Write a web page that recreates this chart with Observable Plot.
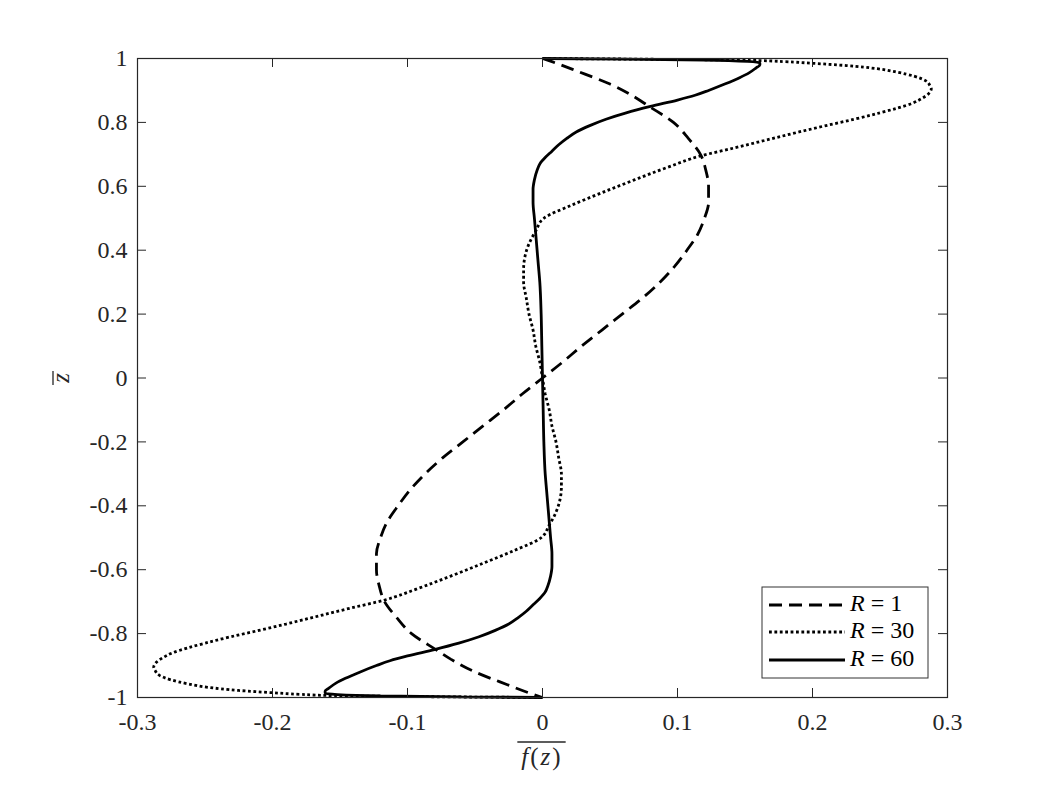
<!DOCTYPE html>
<html><head><meta charset="utf-8">
<script src="https://cdn.jsdelivr.net/npm/d3@7"></script>
<script src="https://cdn.jsdelivr.net/npm/@observablehq/plot@0.6"></script>
<style>html,body{margin:0;padding:0;background:#fff;} #chart{width:1046px;height:785px;} #chart svg text{font-family:"Liberation Serif","DejaVu Serif",serif;}</style>
</head><body><div id="chart"></div>
<script>
// ---- data (z = vertical coordinate, f = horizontal value) ----
const zR1 = [1, 0.99, 0.96, 0.92, 0.88, 0.85, 0.8, 0.75, 0.7, 0.65, 0.6, 0.55, 0.5, 0.45, 0.4, 0.35, 0.3, 0.25, 0.2, 0.15, 0.1, 0.05, 0,
  -0.05, -0.1, -0.15, -0.2, -0.25, -0.3, -0.35, -0.4, -0.45, -0.5, -0.55, -0.6, -0.65, -0.7, -0.75, -0.8, -0.85, -0.88, -0.92, -0.96, -0.99, -1];
const fR1 = [0, 0.007, 0.026, 0.05, 0.068, 0.079, 0.097, 0.108, 0.117, 0.121, 0.123, 0.123, 0.12, 0.115, 0.107, 0.098, 0.087, 0.074, 0.059, 0.044, 0.029, 0.015, 0,
  -0.015, -0.029, -0.044, -0.059, -0.074, -0.087, -0.098, -0.107, -0.115, -0.12, -0.123, -0.123, -0.121, -0.117, -0.108, -0.097, -0.079, -0.068, -0.05, -0.026, -0.007, 0];

const zR30 = [1, 0.997, 0.994, 0.99, 0.985, 0.978, 0.968, 0.957, 0.945, 0.93, 0.915, 0.905, 0.89, 0.875, 0.86, 0.845, 0.83, 0.81, 0.79, 0.77, 0.745, 0.72, 0.695, 0.66, 0.62, 0.58, 0.54, 0.5, 0.46, 0.42, 0.38, 0.34, 0.3, 0.25, 0.2, 0.15, 0.1, 0.05, 0,
  -0.05, -0.1, -0.15, -0.2, -0.25, -0.3, -0.34, -0.38, -0.42, -0.46, -0.5, -0.54, -0.58, -0.62, -0.66, -0.695, -0.72, -0.745, -0.77, -0.79, -0.81, -0.83, -0.845, -0.86, -0.875, -0.89, -0.905, -0.915, -0.93, -0.945, -0.957, -0.968, -0.978, -0.985, -0.99, -0.994, -0.997, -1];
const fR30 = [0, 0.1, 0.155, 0.18, 0.2, 0.225, 0.248, 0.263, 0.275, 0.284, 0.287, 0.288, 0.286, 0.281, 0.274, 0.263, 0.25, 0.231, 0.21, 0.19, 0.166, 0.142, 0.117, 0.093, 0.068, 0.044, 0.021, 0.001, -0.005, -0.01, -0.013, -0.014, -0.014, -0.012, -0.01, -0.007, -0.005, -0.002, 0,
  0.002, 0.005, 0.007, 0.01, 0.012, 0.014, 0.014, 0.013, 0.01, 0.005, -0.001, -0.021, -0.044, -0.068, -0.093, -0.117, -0.142, -0.166, -0.19, -0.21, -0.231, -0.25, -0.263, -0.274, -0.281, -0.286, -0.288, -0.287, -0.284, -0.275, -0.263, -0.248, -0.225, -0.2, -0.18, -0.155, -0.1, 0];

const zR60 = [1, 0.998, 0.995, 0.991, 0.987, 0.98, 0.97, 0.955, 0.94, 0.92, 0.9, 0.885, 0.87, 0.85, 0.83, 0.81, 0.79, 0.77, 0.75, 0.73, 0.71, 0.69, 0.67, 0.65, 0.62, 0.59, 0.55, 0.5, 0.45, 0.4, 0.35, 0.3, 0.2, 0.1, 0,
  -0.1, -0.2, -0.3, -0.35, -0.4, -0.45, -0.5, -0.55, -0.59, -0.62, -0.65, -0.67, -0.69, -0.71, -0.73, -0.75, -0.77, -0.79, -0.81, -0.83, -0.85, -0.87, -0.885, -0.9, -0.92, -0.94, -0.955, -0.97, -0.98, -0.987, -0.991, -0.995, -0.998, -1];
const fR60 = [0, 0.06, 0.12, 0.152, 0.161, 0.161, 0.158, 0.153, 0.146, 0.135, 0.123, 0.113, 0.1, 0.08, 0.062, 0.047, 0.035, 0.025, 0.018, 0.012, 0.007, 0.002, -0.002, -0.004, -0.006, -0.007, -0.007, -0.006, -0.005, -0.004, -0.003, -0.002, -0.001, -0.0005, 0,
  0.0005, 0.001, 0.002, 0.003, 0.004, 0.005, 0.006, 0.007, 0.007, 0.006, 0.004, 0.002, -0.002, -0.007, -0.012, -0.018, -0.025, -0.035, -0.047, -0.062, -0.08, -0.1, -0.113, -0.123, -0.135, -0.146, -0.153, -0.158, -0.161, -0.161, -0.152, -0.12, -0.06, 0];

const seriesNames = ["R = 1", "R = 30", "R = 60"];
const xTicks = [-0.3, -0.2, -0.1, 0, 0.1, 0.2, 0.3];
const xTickLabels = ["-0.3", "-0.2", "-0.1", "0", "0.1", "0.2", "0.3"];
const yTicks = [-1, -0.8, -0.6, -0.4, -0.2, 0, 0.2, 0.4, 0.6, 0.8, 1];
const yTickLabels = ["-1", "-0.8", "-0.6", "-0.4", "-0.2", "0", "0.2", "0.4", "0.6", "0.8", "1"];

// ---- layout ----
const W = 1046, H = 785, mL = 137, mR = 99, mT = 58, mB = 88;
const innerW = W - mL - mR, innerH = H - mT - mB;
const FONT = "Liberation Serif, DejaVu Serif, serif";
const AX = "#262626";
const dashes = ["13,7", "2.8,2.6", null];
const LW = 2.8;

const mk = (zs, fs) => zs.map((z, i) => ({z, f: fs[i]}));
const dR1 = mk(zR1, fR1), dR30 = mk(zR30, fR30), dR60 = mk(zR60, fR60);
const xLab = new Map(xTicks.map((t, i) => [t, xTickLabels[i]]));
const yLab = new Map(yTicks.map((t, i) => [t, yTickLabels[i]]));
const lineOpts = {x: "f", y: "z", curve: "monotone-y", stroke: "black", strokeWidth: LW, strokeLinecap: "butt", strokeLinejoin: "miter"};

const svg = Plot.plot({
  width: W, height: H,
  marginLeft: mL, marginRight: mR, marginTop: mT, marginBottom: mB,
  style: {fontFamily: FONT, fontSize: "24px", background: "white", color: AX},
  x: {domain: [-0.3, 0.3]},
  y: {domain: [-1, 1]},
  marks: [
    Plot.line(dR1, {...lineOpts, strokeDasharray: dashes[0]}),
    Plot.line(dR30, {...lineOpts, strokeDasharray: dashes[1]}),
    Plot.line(dR60, {...lineOpts}),
    Plot.axisX({ticks: xTicks, tickSize: 0, tickPadding: 15, tickFormat: d => xLab.get(d), label: null, fontSize: 24, fill: AX}),
    Plot.axisY({ticks: yTicks, tickSize: 0, tickPadding: 10, tickFormat: d => yLab.get(d), label: null, fontSize: 24, fill: AX}),
    Plot.tickX(xTicks, {x: d => d, insetTop: innerH - 9, stroke: AX, strokeWidth: 1}),
    Plot.tickX(xTicks, {x: d => d, insetBottom: innerH - 9, stroke: AX, strokeWidth: 1}),
    Plot.tickY(yTicks, {y: d => d, insetRight: innerW - 9, stroke: AX, strokeWidth: 1}),
    Plot.tickY(yTicks, {y: d => d, insetLeft: innerW - 9, stroke: AX, strokeWidth: 1}),
    Plot.frame({stroke: AX, strokeWidth: 1.2})
  ]
});
document.getElementById("chart").appendChild(svg);

const s = d3.select(svg);
// x label: overline f(z)
const xl = s.append("text").attr("x", mL + innerW / 2).attr("y", 765)
  .attr("text-anchor", "middle").attr("font-size", 25).attr("fill", AX)
  .attr("letter-spacing", 2);
xl.append("tspan").attr("font-style", "italic").text("f");
xl.append("tspan").text("(");
xl.append("tspan").attr("font-style", "italic").text("z");
xl.append("tspan").text(")");
const xb = xl.node().getBBox();
s.append("line").attr("x1", xb.x - 4).attr("x2", xb.x + xb.width + 3).attr("y1", 742).attr("y2", 742)
  .attr("stroke", AX).attr("stroke-width", 1.3);

// y label: overline z (rotated)
s.append("text").attr("transform", "translate(69,378) rotate(-90)")
  .attr("text-anchor", "middle").attr("font-size", 25).attr("fill", AX)
  .attr("font-style", "italic").text("z");
s.append("line").attr("x1", 53).attr("x2", 53).attr("y1", 371).attr("y2", 385)
  .attr("stroke", AX).attr("stroke-width", 1.3);

// legend
const lg = s.append("g");
lg.append("rect").attr("x", 762).attr("y", 587).attr("width", 166).attr("height", 91)
  .attr("fill", "white").attr("stroke", "#333").attr("stroke-width", 1);
const rowsY = [605, 632, 660];
seriesNames.forEach((name, i) => {
  const y = rowsY[i];
  const ln = lg.append("line").attr("x1", 769).attr("x2", 845).attr("y1", y).attr("y2", y)
    .attr("stroke", "black").attr("stroke-width", LW).attr("stroke-linecap", "butt");
  if (dashes[i]) ln.attr("stroke-dasharray", dashes[i]);
  const t = lg.append("text").attr("x", 850).attr("y", y + 6).attr("text-anchor", "start")
    .attr("font-size", 24).attr("fill", "black");
  const parts = name.split(" = ");
  t.append("tspan").attr("font-style", "italic").text(parts[0]);
  t.append("tspan").text(" = " + parts[1]);
});
</script>
</body></html>
